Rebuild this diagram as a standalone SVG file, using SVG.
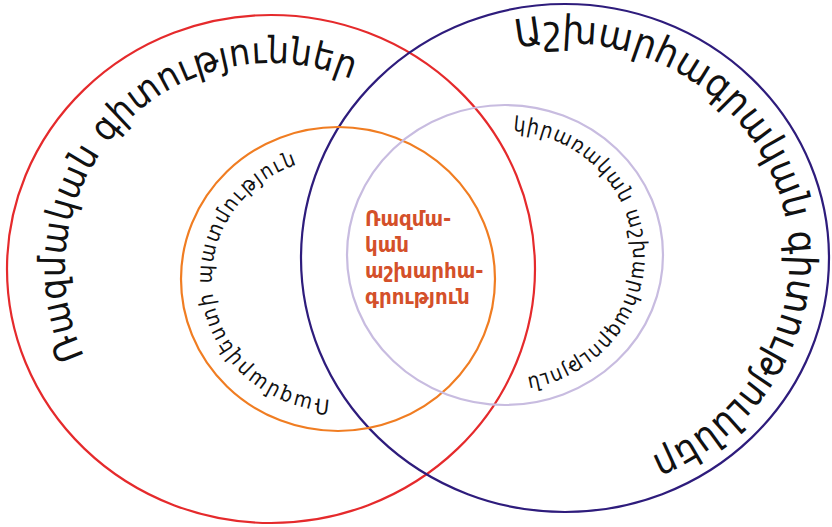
<svg xmlns="http://www.w3.org/2000/svg" xmlns:xlink="http://www.w3.org/1999/xlink" width="832" height="527" viewBox="0 0 832 527">
<style>
.ring{fill:none;stroke-width:2.2}
.arc{font-family:"DejaVu Sans","Noto Sans",sans-serif;font-stretch:condensed;fill:#111}
.center{font-family:"DejaVu Sans","Noto Sans",sans-serif;font-stretch:condensed;font-weight:bold;font-size:22px;fill:#d4502a}
</style>
<defs>
<path id="pRed" d="M 84.3 356.1 A 206 206 0 0 1 374 90.6"/>
<path id="pBlue" d="M 517 48 A 225 215 0 0 1 623.2 465.7"/>
<path id="pOrange" d="M 330 399.8 A 126 121 0 0 1 305.4 162.1"/>
<path id="pLav" d="M 513 131.2 A 128 124 0 0 1 516.2 378.5"/>
</defs>
<rect width="832" height="527" fill="#fff"/>
<g id="military-sciences">
<ellipse class="ring" cx="271" cy="269" rx="264" ry="254" stroke="#e52a2c"/>
<text class="arc" style="font-size:37px"><textPath href="#pRed" xlink:href="#pRed" textLength="496" lengthAdjust="spacing">Ռազմական գիտություններ</textPath></text>
</g>
<g id="geographic-sciences">
<ellipse class="ring" cx="565" cy="258" rx="264" ry="254" stroke="#2e1c7c"/>
<text class="arc" style="font-size:39px"><textPath href="#pBlue" xlink:href="#pBlue" textLength="650" lengthAdjust="spacing">Աշխարհագրական գիտություններ</textPath></text>
</g>
<g id="military-art-history">
<ellipse class="ring" cx="338" cy="279" rx="157" ry="152" stroke="#f07d22"/>
<text class="arc" style="font-size:21px"><textPath href="#pOrange" xlink:href="#pOrange" textLength="338" lengthAdjust="spacing">Ռազմարվեստի պատմություն</textPath></text>
</g>
<g id="applied-geography">
<ellipse class="ring" cx="505" cy="255" rx="158" ry="150" stroke="#c8bce0"/>
<text class="arc" style="font-size:21px"><textPath href="#pLav" xlink:href="#pLav" textLength="366" lengthAdjust="spacing">կիրառական աշխարհագրություն</textPath></text>
</g>
<g id="military-geography">
<text class="center" x="365" y="226">Ռազմա-</text>
<text class="center" x="365" y="252">կան</text>
<text class="center" x="365" y="278">աշխարհա-</text>
<text class="center" x="365" y="304">գրություն</text>
</g>
<g id="connectors"/>
</svg>
